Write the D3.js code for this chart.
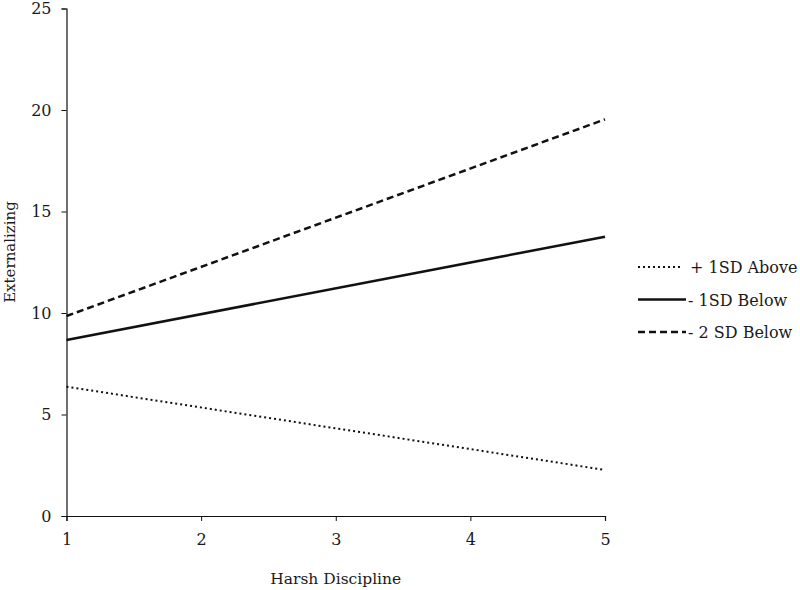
<!DOCTYPE html>
<html>
<head>
<meta charset="utf-8">
<script src="https://cdn.jsdelivr.net/npm/d3@7.9.0/dist/d3.min.js"></script>
<style>
  body { margin: 0; background: #fff; }
  svg text { font-family: "DejaVu Serif", serif; fill: #1a1a1a; }
</style>
</head>
<body>
<svg id="chart" width="800" height="590"></svg>
<script>
// values
const xValues = [1, 5];
const seriesNames = ["+ 1SD Above", "- 1SD Below", "- 2 SD Below"];
const aboveValues = [6.37, 2.27];
const below1Values = [8.67, 13.76];
const below2Values = [9.85, 19.54];
const xTicks = [1, 2, 3, 4, 5];
const yTicks = [0, 5, 10, 15, 20, 25];

const series = [
  { name: seriesNames[0], values: aboveValues, dash: "2,3", width: 2, len: 45, tx: 52 },
  { name: seriesNames[1], values: below1Values, dash: null, width: 2.5, len: 48, tx: 50 },
  { name: seriesNames[2], values: below2Values, dash: "7,4", width: 2.5, len: 48, tx: 50 },
];

const svg = d3.select("#chart");
const margin = { left: 66.5, right: 195, top: 8.5, bottom: 74 };
const width = 800, height = 590;

const x = d3.scaleLinear().domain([1, 5]).range([margin.left, width - margin.right]);
const y = d3.scaleLinear().domain([0, 25]).range([height - margin.bottom, margin.top]);

const xAxis = svg.append("g")
  .attr("transform", `translate(0,${y(0)})`)
  .call(d3.axisBottom(x).tickValues(xTicks).tickFormat(d3.format("d")).tickSizeOuter(0).tickSize(5).tickPadding(10));
const yAxis = svg.append("g")
  .attr("transform", `translate(${x(1)},0)`)
  .call(d3.axisLeft(y).tickValues(yTicks).tickSizeOuter(0).tickSize(5).tickPadding(10));

[xAxis, yAxis].forEach((g) => {
  g.select(".domain").attr("stroke", "#111").attr("stroke-width", 1.2);
  g.selectAll(".tick line").attr("stroke", "#111");
  g.selectAll(".tick text").attr("font-size", 16).attr("fill", "#1a1a1a");
});
xAxis.selectAll(".tick text").attr("dy", "0.9em");

const line = d3.line()
  .x((d, i) => x(xValues[i]))
  .y((d) => y(d));

series.forEach((s) => {
  svg.append("path")
    .datum(s.values)
    .attr("d", line)
    .attr("fill", "none")
    .attr("stroke", "#111")
    .attr("stroke-width", s.width)
    .attr("stroke-dasharray", s.dash);
});

// axis titles
svg.append("text")
  .attr("x", (x(1) + x(5)) / 2)
  .attr("y", 584)
  .attr("text-anchor", "middle")
  .attr("font-size", 15.5)
  .text("Harsh Discipline");

svg.append("text")
  .attr("transform", "translate(15,252) rotate(-90)")
  .attr("text-anchor", "middle")
  .attr("font-size", 15)
  .text("Externalizing");

// legend
const legend = svg.append("g").attr("transform", "translate(638,267)");
series.forEach((s, i) => {
  const row = legend.append("g").attr("transform", `translate(0,${i * 32.5})`);
  row.append("line")
    .attr("x1", 0).attr("x2", s.len)
    .attr("y1", 0).attr("y2", 0)
    .attr("stroke", "#111")
    .attr("stroke-width", s.width)
    .attr("stroke-dasharray", s.dash);
  row.append("text")
    .attr("x", s.tx)
    .attr("y", 6)
    .attr("font-size", 16)
    .text(s.name);
});
</script>
</body>
</html>
